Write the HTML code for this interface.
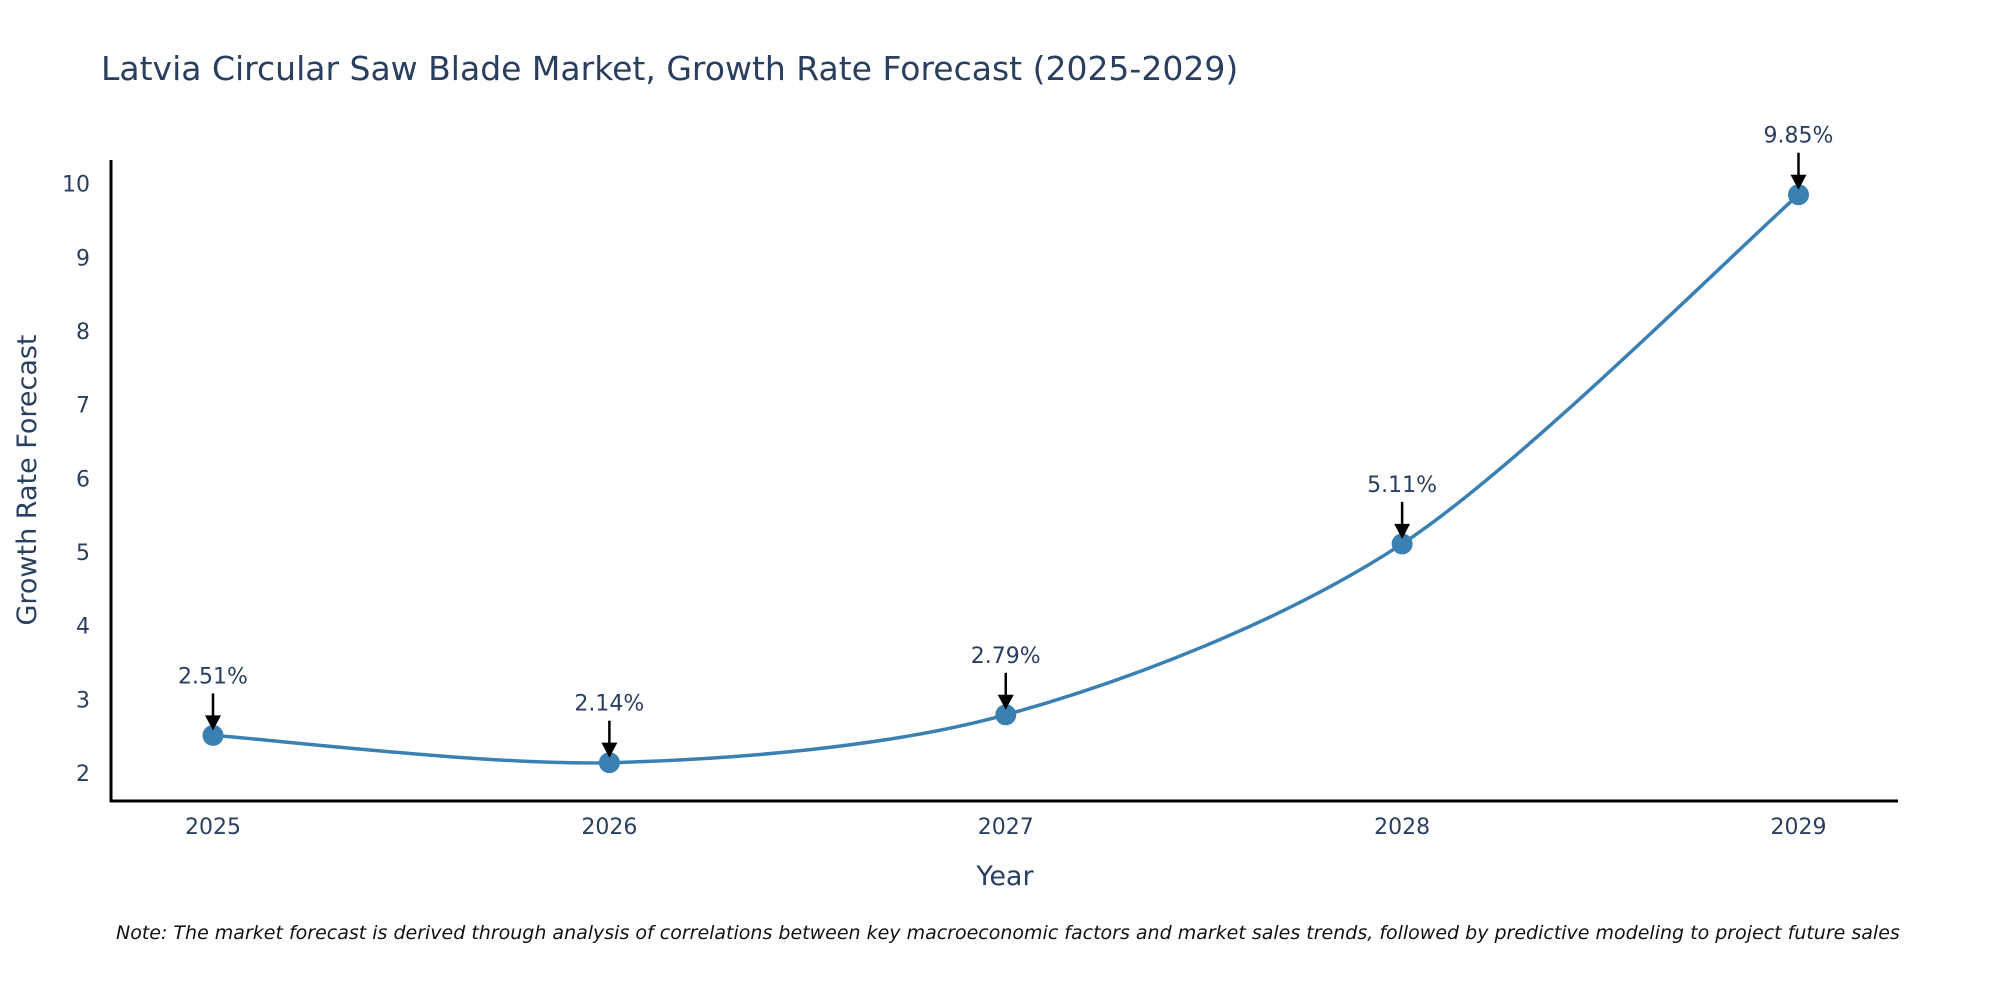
<!DOCTYPE html>
<html><head><meta charset="utf-8"><style>
body{margin:0;background:#fff;}
svg{display:block;font-family:"DejaVu Sans","Liberation Sans",sans-serif;}
</style></head><body>
<svg id="chart" width="2000" height="1000">
<text x="101" y="80" font-size="33" fill="#2a3f5f">Latvia Circular Saw Blade Market, Growth Rate Forecast (2025-2029)</text>
<line x1="111" y1="160" x2="111" y2="802" stroke="#000" stroke-width="3"/>
<line x1="110" y1="801" x2="1898" y2="801" stroke="#000" stroke-width="3"/>
<text transform="translate(36,480) rotate(-90)" text-anchor="middle" font-size="27" fill="#2a3f5f">Growth Rate Forecast</text>
<text x="1005" y="885" text-anchor="middle" font-size="27" fill="#2a3f5f">Year</text>
<text x="116" y="939" font-size="19" font-style="italic" fill="#111">Note: The market forecast is derived through analysis of correlations between key macroeconomic factors and market sales trends, followed by predictive modeling to project future sales</text>
<g id="plot"></g>
</svg>
<script>
const years = ["2025","2026","2027","2028","2029"];
const values = [2.51, 2.14, 2.79, 5.11, 9.85];
const labels = ["2.51%","2.14%","2.79%","5.11%","9.85%"];
const yTicks = [2,3,4,5,6,7,8,9,10];
const NS="http://www.w3.org/2000/svg";
const g=document.getElementById('plot');
function xs(i){return 213+i*(1798.5-213)/(years.length-1);}
function ys(v){return 773-(v-2)*(773-183.7)/8;}
function mk(t,a){const e=document.createElementNS(NS,t);for(const k in a)e.setAttribute(k,a[k]);g.appendChild(e);return e;}
yTicks.forEach(v=>{
  const t=mk('text',{x:90,y:ys(v)+8,'text-anchor':'end','font-size':22,fill:'#2a3f5f'});
  t.textContent=v;
  
  
});
years.forEach((y,i)=>{
  const t=mk('text',{x:xs(i),y:834,'text-anchor':'middle','font-size':22,fill:'#2a3f5f'});
  t.textContent=y;
  
  
});
const pts=values.map((v,i)=>[xs(i),ys(v)]);
let d=`M${pts[0][0]},${pts[0][1]}`;
for(let i=0;i<pts.length-1;i++){
  const p0=pts[Math.max(i-1,0)],p1=pts[i],p2=pts[i+1],p3=pts[Math.min(i+2,pts.length-1)];
  const k=0.15;
  d+=` C${p1[0]+(p2[0]-p0[0])*k},${p1[1]+(p2[1]-p0[1])*k} ${p2[0]-(p3[0]-p1[0])*k},${p2[1]-(p3[1]-p1[1])*k} ${p2[0]},${p2[1]}`;
}
const line=mk('path',{d:d,fill:'none',stroke:'#3b80b3','stroke-width':3.5});


pts.forEach((p,i)=>{
  const c=mk('circle',{cx:p[0],cy:p[1],r:10.5,fill:'#3b80b3'});
  
  
  const a=mk('line',{x1:p[0],y1:p[1]-42,x2:p[0],y2:p[1]-14,stroke:'#000','stroke-width':2.5});
  
  
  const h=mk('polygon',{points:`${p[0]-8},${p[1]-20} ${p[0]+8},${p[1]-20} ${p[0]},${p[1]-5}`,fill:'#000'});
  
  
  const t=mk('text',{x:p[0],y:p[1]-52,'text-anchor':'middle','font-size':22,fill:'#2a3f5f'});
  t.textContent=labels[i];
  
  
});
</script>
</body></html>
